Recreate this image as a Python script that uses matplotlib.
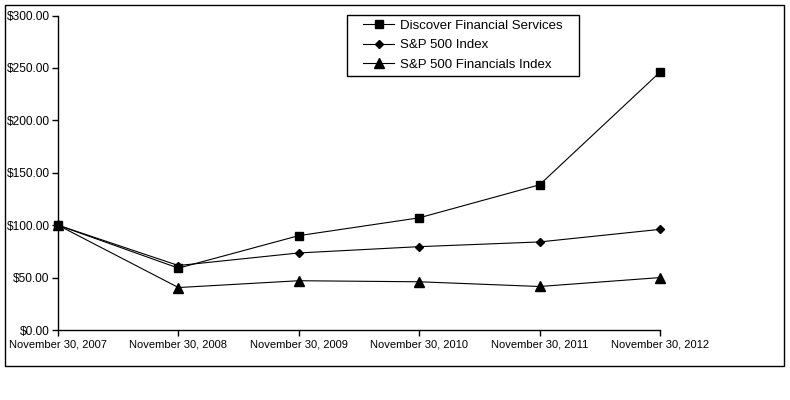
import matplotlib
matplotlib.use("Agg")
import matplotlib.pyplot as plt
from matplotlib.patches import Rectangle

DATES = ["November 30, 2007", "November 30, 2008", "November 30, 2009",
         "November 30, 2010", "November 30, 2011", "November 30, 2012"]
DISCOVER = [100.0, 59.0, 90.0, 107.0, 138.5, 246.0]
SP500 = [100.0, 61.5, 73.5, 79.5, 84.0, 96.0]
SP500_FIN = [100.0, 40.5, 47.0, 46.0, 41.5, 50.0]
Y_TICKS = [0, 50, 100, 150, 200, 250, 300]

W, H = 790, 400


def fig_box(fig, x0, y0, x1, y1):
    # pixel box (top-left origin) drawn as a plain black frame
    fig.patches.append(Rectangle((x0 / W, (H - y1) / H), (x1 - x0) / W, (y1 - y0) / H,
                                 transform=fig.transFigure, fill=False,
                                 edgecolor="black", linewidth=1.0))


def main():
    plt.rcParams.update({
        "font.family": ["Liberation Sans", "DejaVu Sans"],
        "font.size": 8,
    })
    fig = plt.figure(figsize=(W / 100, H / 100), dpi=100)
    ax = fig.add_axes([58 / W, (H - 330) / H, (660 - 58) / W, (330 - 15.5) / H])

    x = list(range(len(DATES)))
    style = dict(color="black", linewidth=0.8, clip_on=False)
    ax.plot(x, DISCOVER, marker="s", markersize=6, label="Discover Financial Services", **style)
    ax.plot(x, SP500, marker="D", markersize=4.5, label="S&P 500 Index", **style)
    ax.plot(x, SP500_FIN, marker="^", markersize=7, label="S&P 500 Financials Index", **style)

    ax.set_xlim(0, len(DATES) - 1)
    ax.set_ylim(0, 300)
    ax.set_xticks(x)
    ax.set_xticklabels(DATES, fontsize=8)
    ax.set_yticks(Y_TICKS)
    ax.set_yticklabels([f"${v:.2f}" for v in Y_TICKS], fontsize=8.6)
    for side in ("top", "right"):
        ax.spines[side].set_visible(False)
    for side in ("left", "bottom"):
        ax.spines[side].set_linewidth(1.0)
    ax.tick_params(direction="out", length=4, width=1, colors="black")
    ax.tick_params(axis="x", pad=3)
    ax.tick_params(axis="y", pad=2)
    ax.set_facecolor("white")

    ax.legend(loc="upper left", bbox_to_anchor=(363 / W, (H - 19.5) / H),
              bbox_transform=fig.transFigure, frameon=False, borderpad=0,
              labelspacing=0.55, handlelength=2.35, handletextpad=0.45,
              borderaxespad=0, fontsize=9.5)
    fig_box(fig, 347, 15, 579, 76)
    fig_box(fig, 5, 5, 784, 366)

    fig.savefig("out.png", dpi=100)
    plt.close(fig)


if __name__ == "__main__":
    main()
